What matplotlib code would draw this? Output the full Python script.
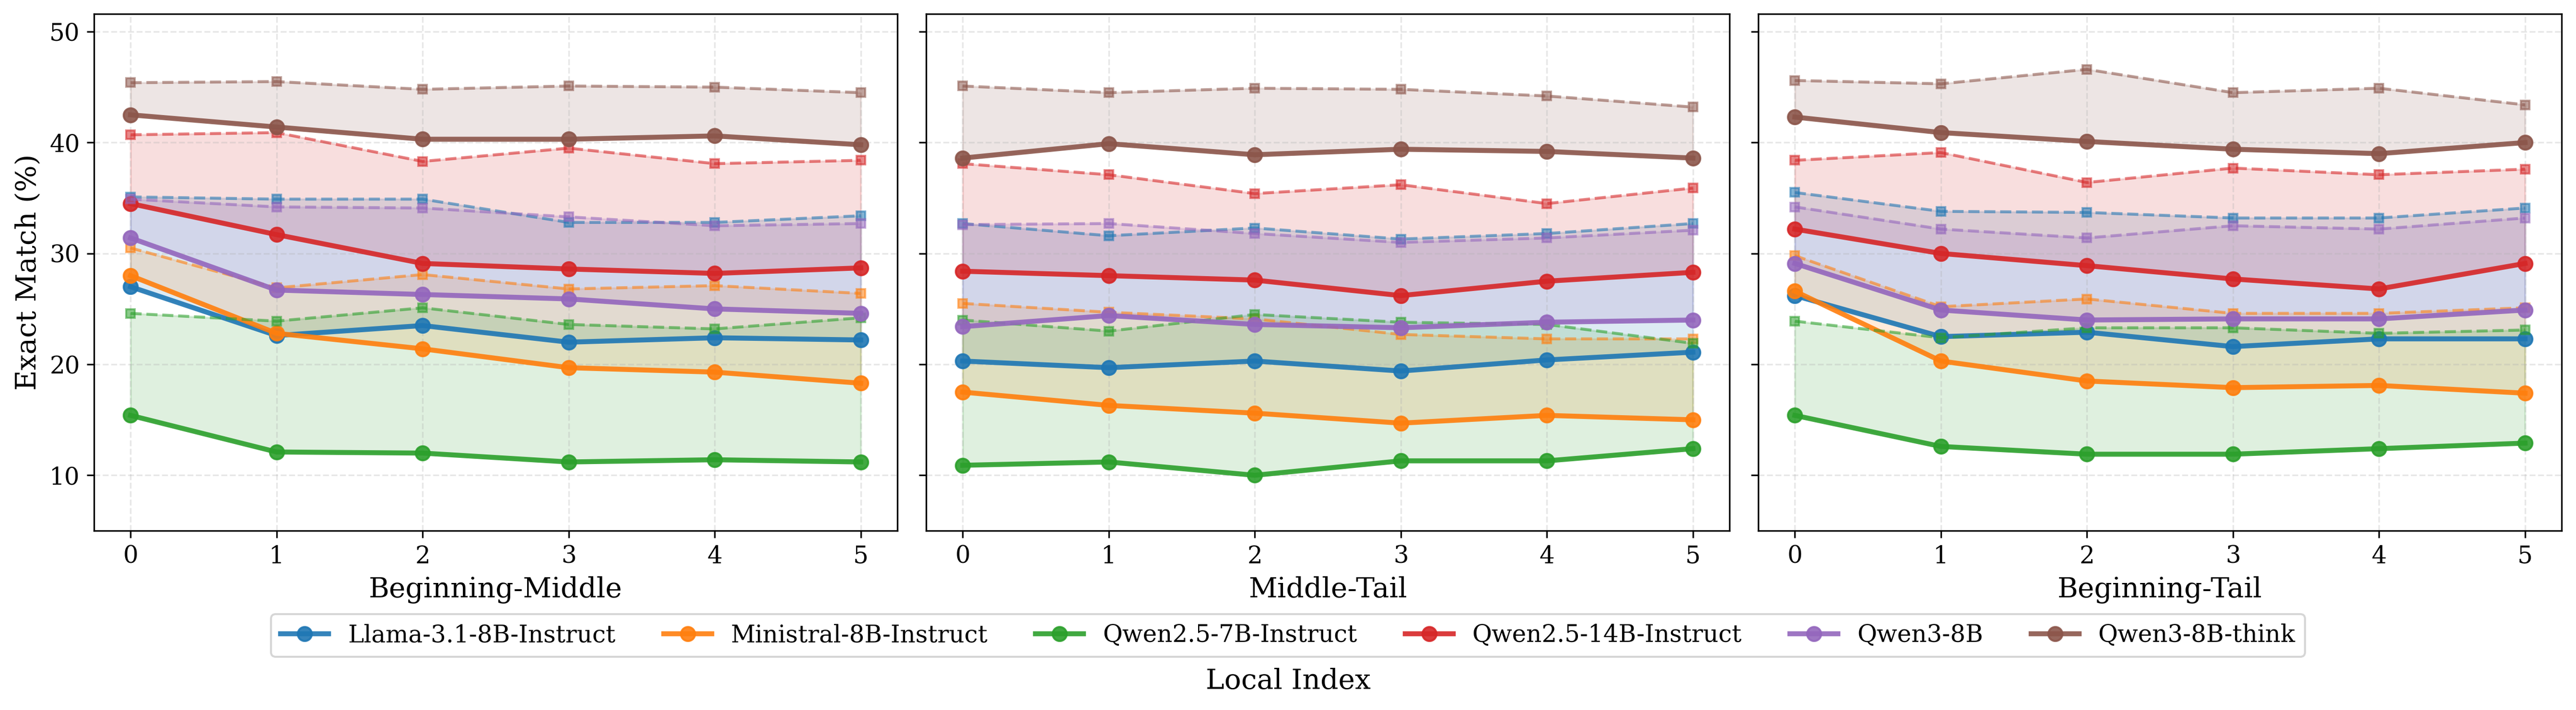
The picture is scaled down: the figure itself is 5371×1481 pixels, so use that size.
import matplotlib
matplotlib.use("Agg")
import matplotlib.pyplot as plt
import numpy as np

plt.rcParams["font.family"] = "DejaVu Serif"

# ----------------------------------------------------------------------
# Data
# ----------------------------------------------------------------------
local_index = [0, 1, 2, 3, 4, 5]
settings = ["Beginning-Middle", "Middle-Tail", "Beginning-Tail"]
models = ["Llama-3.1-8B-Instruct", "Ministral-8B-Instruct", "Qwen2.5-7B-Instruct",
          "Qwen2.5-14B-Instruct", "Qwen3-8B", "Qwen3-8B-think"]

# solid lines (markers "o"), one list per setting
llama_em = [[27.0, 22.6, 23.5, 22.0, 22.4, 22.2],
            [20.3, 19.7, 20.3, 19.4, 20.4, 21.1],
            [26.2, 22.5, 22.9, 21.6, 22.3, 22.3]]
ministral_em = [[28.0, 22.8, 21.4, 19.7, 19.3, 18.3],
                [17.5, 16.3, 15.6, 14.7, 15.4, 15.0],
                [26.6, 20.3, 18.5, 17.9, 18.1, 17.4]]
qwen7_em = [[15.4, 12.1, 12.0, 11.2, 11.4, 11.2],
            [10.9, 11.2, 10.0, 11.3, 11.3, 12.4],
            [15.4, 12.6, 11.9, 11.9, 12.4, 12.9]]
qwen14_em = [[34.5, 31.7, 29.1, 28.6, 28.2, 28.7],
             [28.4, 28.0, 27.6, 26.2, 27.5, 28.3],
             [32.2, 30.0, 28.9, 27.7, 26.8, 29.1]]
qwen3_em = [[31.4, 26.7, 26.3, 25.9, 25.0, 24.6],
            [23.4, 24.4, 23.6, 23.3, 23.8, 24.0],
            [29.1, 24.9, 24.0, 24.1, 24.1, 24.9]]
qwen3think_em = [[42.5, 41.4, 40.3, 40.3, 40.6, 39.8],
                 [38.6, 39.9, 38.9, 39.4, 39.2, 38.6],
                 [42.3, 40.9, 40.1, 39.4, 39.0, 40.0]]

# dashed lines (markers "s"), one list per setting
llama_ref = [[35.1, 34.9, 34.9, 32.8, 32.8, 33.4],
             [32.7, 31.6, 32.3, 31.3, 31.8, 32.7],
             [35.5, 33.8, 33.7, 33.2, 33.2, 34.1]]
ministral_ref = [[30.5, 26.9, 28.1, 26.8, 27.1, 26.4],
                 [25.5, 24.7, 24.1, 22.7, 22.3, 22.3],
                 [29.8, 25.2, 25.9, 24.6, 24.6, 25.1]]
qwen7_ref = [[24.6, 23.9, 25.1, 23.6, 23.2, 24.2],
             [24.0, 23.0, 24.5, 23.8, 23.6, 21.9],
             [23.9, 22.4, 23.3, 23.3, 22.8, 23.1]]
qwen14_ref = [[40.7, 40.9, 38.3, 39.5, 38.1, 38.4],
              [38.1, 37.1, 35.4, 36.2, 34.5, 35.9],
              [38.4, 39.1, 36.4, 37.7, 37.1, 37.6]]
qwen3_ref = [[34.9, 34.2, 34.1, 33.3, 32.5, 32.7],
             [32.6, 32.7, 31.8, 31.0, 31.4, 32.1],
             [34.2, 32.2, 31.4, 32.5, 32.2, 33.2]]
qwen3think_ref = [[45.4, 45.5, 44.8, 45.1, 45.0, 44.5],
                  [45.1, 44.5, 44.9, 44.8, 44.2, 43.2],
                  [45.6, 45.3, 46.6, 44.5, 44.9, 43.4]]

colors = ["tab:blue", "tab:orange", "tab:green", "tab:red", "tab:purple", "tab:brown"]

em_all = [llama_em, ministral_em, qwen7_em, qwen14_em, qwen3_em, qwen3think_em]
ref_all = [llama_ref, ministral_ref, qwen7_ref, qwen14_ref, qwen3_ref, qwen3think_ref]

# ----------------------------------------------------------------------
# Plot
# ----------------------------------------------------------------------
fig, axes = plt.subplots(1, 3, figsize=(5371 / 300, 1481 / 300), dpi=300, sharey=True)
fig.subplots_adjust(left=0.0365, right=0.9944, top=0.9804, bottom=0.2525, wspace=0.036)

for s, ax in enumerate(axes):
    for m, name in enumerate(models):
        em = em_all[m][s]
        ref = ref_all[m][s]
        ax.fill_between(local_index, em, ref, color=colors[m], alpha=0.15)
        ax.plot(local_index, ref, linestyle="--", marker="s", markersize=4.5,
                linewidth=1.5, color=colors[m], alpha=0.55)
        ax.plot(local_index, em, linestyle="-", marker="o", markersize=7,
                linewidth=2.5, color=colors[m], alpha=0.9, label=name)
    ax.set_xlabel(settings[s], fontsize=14)
    ax.set_xticks(local_index)
    ax.tick_params(labelsize=12)
    ax.grid(True, linestyle="--", alpha=0.3)

all_vals = np.concatenate([np.ravel(v) for v in em_all + ref_all])
axes[0].set_ylim(all_vals.min() - 5, all_vals.max() + 5)
axes[0].set_yticks([10, 20, 30, 40, 50])
axes[0].set_ylabel("Exact Match (%)", fontsize=14)

handles, labels = axes[0].get_legend_handles_labels()
fig.legend(handles, labels, loc="center", bbox_to_anchor=(0.5, 0.105), ncol=6, fontsize=12)
fig.text(0.5, 0.0405, "Local Index", ha="center", va="center", fontsize=14)

plt.savefig("out.png", dpi=300)
